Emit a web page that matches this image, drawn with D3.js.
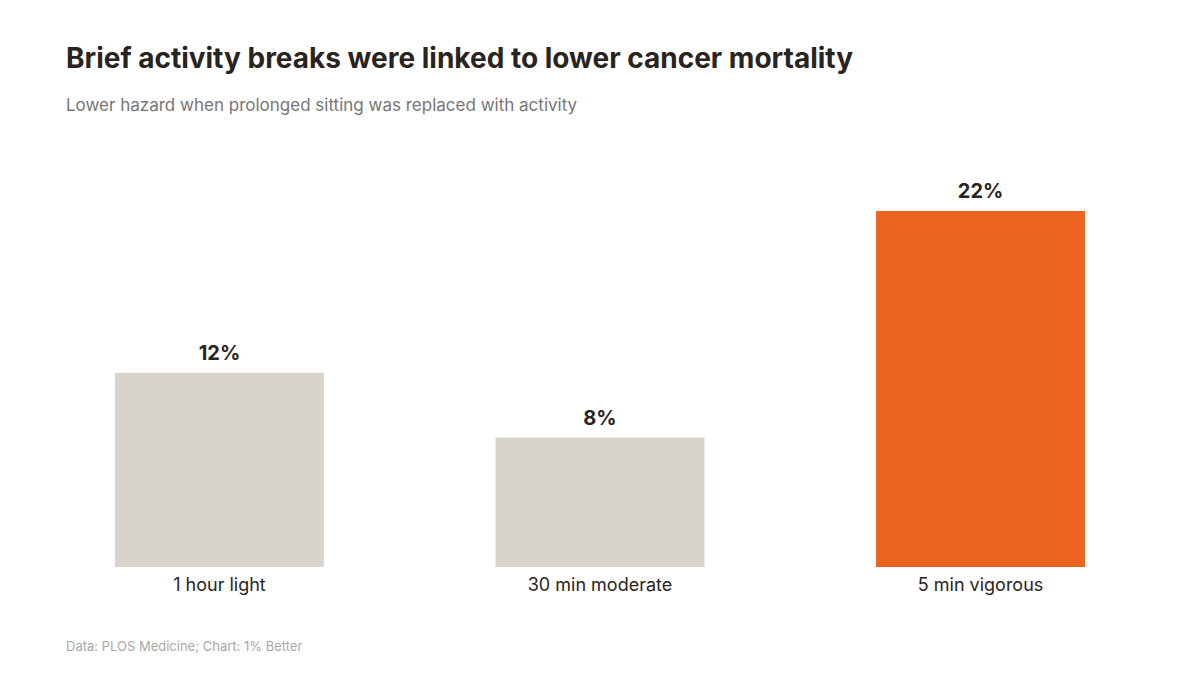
<!DOCTYPE html>
<html><head><meta charset="utf-8">
<script src="https://cdn.jsdelivr.net/npm/d3@7"></script>
<style>body{margin:0;background:#fff}svg{font-family:Inter,"Noto Sans",sans-serif}</style>
</head><body><svg id="c" width="1200" height="675"></svg>
<script>
const categories = ["1 hour light","30 min moderate","5 min vigorous"];
const values = [12, 8, 22];
const highlight = [false, false, true];

const svg = d3.select("#c");
const x = d3.scaleBand().domain(categories).range([115,1085]).paddingInner(0.451).paddingOuter(0);
const y = d3.scaleLinear().domain([0,22]).range([567,211]);

svg.append("text").attr("x",66).attr("y",68).attr("font-size",28).attr("font-weight",700)
  .attr("fill","#2a2420").text("Brief activity breaks were linked to lower cancer mortality");
svg.append("text").attr("x",66).attr("y",111).attr("font-size",17).attr("fill","#767676")
  .text("Lower hazard when prolonged sitting was replaced with activity");

svg.selectAll("rect.bar").data(values).join("rect").attr("class","bar")
  .attr("x",(d,i)=>x(categories[i])).attr("width",x.bandwidth())
  .attr("y",d=>y(d)).attr("height",d=>y(0)-y(d))
  .attr("fill",(d,i)=>highlight[i]?"#eb6420":"#d9d4cb");

svg.selectAll("text.val").data(values).join("text").attr("class","val")
  .attr("x",(d,i)=>x(categories[i])+x.bandwidth()/2).attr("y",d=>y(d)-13)
  .attr("text-anchor","middle").attr("font-size",20).attr("font-weight",700).attr("fill","#2a2420")
  .text(d=>d+"%");

const ax = svg.append("g").attr("transform","translate(0,567)").call(d3.axisBottom(x).tickSize(0).tickPadding(11));
ax.select(".domain").remove();
ax.selectAll("text").attr("font-size",18).attr("fill","#2a2420").attr("font-family","Inter,sans-serif");

svg.append("text").attr("x",66).attr("y",651).attr("font-size",13).attr("fill","#a8a8a8")
  .text("Data: PLOS Medicine; Chart: 1% Better");
</script></body></html>
